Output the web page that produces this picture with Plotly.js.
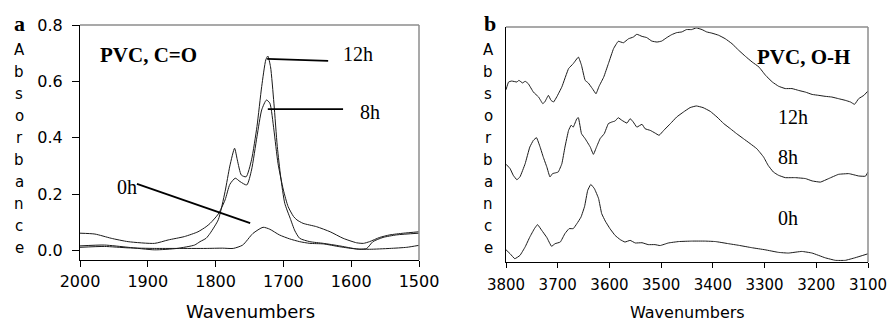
<!DOCTYPE html>
<html><head><meta charset="utf-8">
<script src="https://cdn.plot.ly/plotly-3.0.1.min.js"></script>
<style>html,body{margin:0;padding:0;background:#fff}#chart{width:890px;height:323px}</style>
</head><body><div id="chart"></div>
<script>
// ---- Panel a: PVC, C=O region ----
const wnA_0h = [2000,1964,1929,1890,1857,1814,1790,1774,1760,1745,1730,1720,1706,1691,1676,1661,1641,1617,1592,1573,1543,1518,1500];
const absA_0h = [0.012,0.015,0.010,0.008,0.008,0.008,0.009,0.008,0.020,0.061,0.083,0.076,0.056,0.042,0.032,0.026,0.024,0.014,0.006,0.005,0.008,0.012,0.019];

const wnA_8h = [2000,1978,1954,1929,1890,1870,1846,1826,1814,1808,1796,1786,1779,1771,1764,1754,1747,1739,1732,1725,1720,1714,1708,1700,1693,1685,1680,1671,1651,1631,1612,1592,1582,1573,1558,1543,1523,1500];
const absA_8h = [0.062,0.059,0.044,0.032,0.026,0.038,0.050,0.067,0.085,0.097,0.130,0.180,0.235,0.257,0.245,0.233,0.286,0.404,0.499,0.534,0.523,0.428,0.310,0.215,0.156,0.121,0.109,0.097,0.085,0.067,0.044,0.028,0.026,0.032,0.047,0.056,0.062,0.067];

const wnA_12h = [2000,1964,1929,1890,1857,1831,1823,1814,1808,1796,1786,1779,1772,1768,1762,1755,1747,1739,1732,1726,1723,1719,1714,1709,1704,1698,1690,1683,1676,1661,1641,1617,1597,1587,1577,1568,1553,1533,1500];
const absA_12h = [0.017,0.020,0.012,0.003,0.008,0.020,0.032,0.044,0.062,0.110,0.210,0.300,0.363,0.322,0.268,0.262,0.322,0.440,0.582,0.676,0.690,0.652,0.523,0.369,0.262,0.168,0.115,0.070,0.044,0.032,0.026,0.017,0.008,0.005,0.008,0.032,0.047,0.056,0.062];

const ticksA_x = [2000,1900,1800,1700,1600,1500];
const ticksA_y = [0,0.2,0.4,0.6,0.8];
const ticksA_ytext = ['0.0','0.2','0.4','0.6','0.8'];

// ---- Panel b: PVC, O-H region (offset absorbance, arbitrary units) ----
const wnB_12h = [3800,3795,3789,3779,3775,3768,3763,3757,3747,3737,3729,3725,3718,3713,3708,3702,3692,3679,3670,3660,3654,3647,3641,3633,3626,3620,3611,3602,3592,3583,3573,3563,3554,3547,3537,3528,3518,3508,3499,3489,3480,3470,3460,3451,3441,3432,3421,3412,3402,3389,3376,3363,3350,3337,3324,3311,3298,3285,3273,3260,3247,3234,3221,3208,3195,3183,3170,3157,3144,3134,3126,3118,3108,3100];
const absB_12h = [73.3,76.6,77.0,76.6,77.3,76.2,76.9,75.9,72.3,70.2,67.4,68.1,70.9,68.8,68.1,70.2,74.5,82.3,84.4,87.2,83.7,77.3,76.2,73.8,71.6,74.8,78.7,84.4,90.8,93.9,93.3,95.0,95.7,96.9,96.0,95.5,94.0,93.6,94.0,95.5,96.7,97.6,97.9,98.9,98.9,99.6,98.9,97.9,97.4,96.5,95.0,92.9,90.1,87.5,85.1,83.0,79.4,76.6,74.8,73.8,73.8,73.0,72.3,71.3,70.9,70.5,70.2,69.5,68.8,68.1,67.1,69.5,70.9,72.8];

const wnB_8h = [3800,3792,3786,3779,3773,3763,3754,3747,3741,3734,3728,3721,3715,3710,3705,3699,3692,3686,3679,3674,3670,3663,3660,3654,3647,3637,3631,3625,3618,3610,3602,3595,3589,3583,3576,3566,3560,3554,3547,3537,3531,3521,3512,3504,3495,3482,3470,3457,3444,3432,3419,3405,3392,3379,3366,3354,3341,3328,3315,3302,3293,3283,3273,3260,3241,3221,3208,3192,3176,3157,3137,3118,3105,3100];
const absB_8h = [41.6,39.7,36.9,35.0,36.2,41.8,48.9,51.8,52.9,48.9,44.7,40.4,36.2,37.6,37.9,38.3,41.8,48.9,56.0,58.2,57.4,61.0,61.4,54.6,52.5,48.9,45.8,48.9,52.5,54.6,58.9,59.6,60.0,61.4,60.3,59.1,61.0,59.6,57.4,58.6,56.7,56.0,54.9,53.9,56.0,58.9,61.7,63.8,65.7,66.4,65.7,64.1,61.7,58.9,56.7,54.6,52.5,50.4,48.2,44.7,41.1,38.3,36.9,35.9,35.9,35.5,34.5,34.0,35.5,37.3,37.6,36.6,36.5,38.3];

const wnB_0h = [3800,3792,3783,3773,3763,3754,3745,3739,3731,3721,3712,3705,3695,3686,3678,3670,3663,3655,3648,3642,3636,3629,3621,3615,3608,3599,3589,3579,3570,3560,3550,3537,3525,3512,3502,3486,3466,3441,3415,3395,3370,3350,3325,3299,3273,3254,3228,3208,3183,3163,3144,3125,3100];
const absB_0h = [5.2,3.5,1.4,2.8,6.4,10.6,14.2,15.9,13.5,10.4,6.7,7.8,8.5,12.1,14.2,14.2,16.3,19.1,23.7,30.5,33.0,31.2,27.0,20.6,17.4,14.2,11.3,9.5,8.5,9.2,8.1,8.2,7.4,7.4,7.0,8.1,8.7,8.9,8.9,8.7,7.8,7.1,6.1,5.2,4.1,3.8,4.5,3.8,1.8,0.7,0.7,1.8,3.5];

const ticksB_x = [3800,3700,3600,3500,3400,3300,3200,3100];

// ---- helpers for pixel-placed labels ----
const W = 890, H = 323;
const px = x => x / W;
const py = y => 1 - y / H;

const lineStyle = {color: '#1a1a1a', width: 1};
const traces = [
  {x: wnA_0h, y: absA_0h, xaxis: 'x', yaxis: 'y', name: '0h'},
  {x: wnA_8h, y: absA_8h, xaxis: 'x', yaxis: 'y', name: '8h'},
  {x: wnA_12h, y: absA_12h, xaxis: 'x', yaxis: 'y', name: '12h'},
  {x: wnB_0h, y: absB_0h, xaxis: 'x2', yaxis: 'y2', name: '0h'},
  {x: wnB_8h, y: absB_8h, xaxis: 'x2', yaxis: 'y2', name: '8h'},
  {x: wnB_12h, y: absB_12h, xaxis: 'x2', yaxis: 'y2', name: '12h'}
].map((t, i) => Object.assign(t, {
  type: 'scatter', mode: 'lines', hoverinfo: 'skip',
  line: Object.assign({}, lineStyle, i < 3 ? {shape: 'spline', smoothing: 0.6} : {shape: 'spline', smoothing: 0.3})
}));

const sans = 'DejaVu Sans, Arial, sans-serif';
const serif = 'Liberation Serif, Times New Roman, serif';

const annotations = [];
function addText(text, x, y, size, family, bold, xanchor) {
  annotations.push({
    xref: 'paper', yref: 'paper', x: px(x), y: py(y), text: bold ? '<b>' + text + '</b>' : text,
    showarrow: false, xanchor: xanchor || 'center', yanchor: 'middle',
    font: {family: family, size: size, color: '#000'}
  });
}
// vertical "Absorbance" labels, one letter per line
'Absorbance'.split('').forEach((ch, i) => {
  addText(ch, 19, 50 + i * 22, 15, sans, false);
  addText(ch, 488, 50 + i * 22, 15, sans, false);
});
addText('a', 19, 24, 22, serif, true);
addText('b', 490, 23, 22, serif, true);
addText('PVC, C=O', 148, 55, 21, serif, true);
addText('12h', 358, 54, 20, serif, false);
addText('8h', 370, 112, 20, serif, false);
addText('0h', 127, 187, 20, serif, false);
addText('PVC, O-H', 803, 57, 21, serif, true);
addText('12h', 793, 117, 20, serif, false);
addText('8h', 788, 157, 20, serif, false);
addText('0h', 788, 218, 20, serif, false);
addText('Wavenumbers', 250, 311, 18, sans, false);
addText('Wavenumbers', 687, 312, 16, sans, false);

// leader lines (panel a) and gray top/right frame lines
const shapes = [
  {type: 'line', xref: 'x', yref: 'y', x0: 1724, y0: 0.68, x1: 1634, y1: 0.673, line: {color: '#000', width: 1.8}},
  {type: 'line', xref: 'x', yref: 'y', x0: 1723, y0: 0.502, x1: 1612, y1: 0.502, line: {color: '#000', width: 1.8}},
  {type: 'line', xref: 'x', yref: 'y', x0: 1916, y0: 0.237, x1: 1749, y1: 0.098, line: {color: '#000', width: 1.8}}
];
[['x', 'y'], ['x2', 'y2']].forEach(([xa, ya]) => {
  shapes.push({type: 'line', xref: xa + ' domain', yref: ya + ' domain', x0: 0, x1: 1, y0: 1, y1: 1, line: {color: '#8c8c8c', width: 1.5}});
  shapes.push({type: 'line', xref: xa + ' domain', yref: ya + ' domain', x0: 1, x1: 1, y0: 0, y1: 1, line: {color: '#8c8c8c', width: 1.5}});
});

const axBase = {showgrid: false, zeroline: false, showline: true, linecolor: '#000', linewidth: 1, ticks: 'outside', tickcolor: '#000', tickwidth: 1};

const layout = {
  width: W, height: H, margin: {l: 0, r: 0, t: 0, b: 0},
  paper_bgcolor: '#fff', plot_bgcolor: '#fff', showlegend: false,
  xaxis: Object.assign({}, axBase, {domain: [px(80), px(419)], range: [2000, 1500], tickvals: ticksA_x, ticklen: 6,
    tickfont: {family: sans, size: 16, color: '#000'}, anchor: 'y', ticklabelstandoff: 1}),
  yaxis: Object.assign({}, axBase, {domain: [py(260), py(25)], range: [-0.033, 0.8], tickvals: ticksA_y, ticktext: ticksA_ytext, ticklen: 7,
    tickfont: {family: sans, size: 16, color: '#000'}, anchor: 'x', ticklabelstandoff: 6}),
  xaxis2: Object.assign({}, axBase, {domain: [px(506), px(868)], range: [3800, 3100], tickvals: ticksB_x, ticklen: 5,
    tickfont: {family: sans, size: 15, color: '#000'}, anchor: 'y2', ticklabelstandoff: 4}),
  yaxis2: Object.assign({}, axBase, {domain: [py(262), py(27)], range: [0, 100], ticks: '', showticklabels: false, anchor: 'x2'}),
  annotations: annotations, shapes: shapes
};

Plotly.newPlot('chart', traces, layout, {staticPlot: true, displayModeBar: false});
</script>
</body></html>
